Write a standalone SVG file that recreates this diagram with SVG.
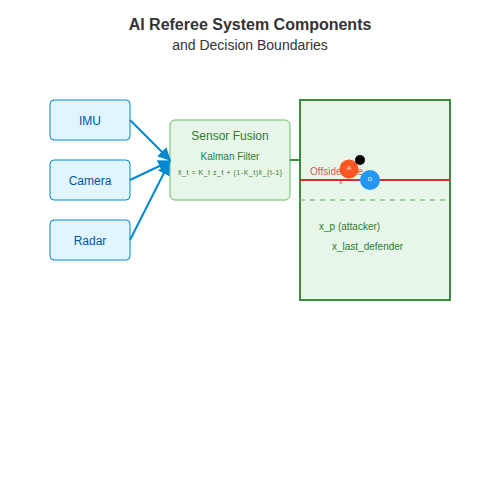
<svg xmlns="http://www.w3.org/2000/svg" width="500" height="500" viewBox="0 0 500 500">
<style>
text{font-family:"Liberation Sans",Arial,sans-serif}
.src rect{fill:#E1F5FE;stroke:#0288D1;stroke-width:1}
.src text{fill:#01579B;font-size:12px;text-anchor:middle}
.arr{stroke:#0288D1;stroke-width:2;fill:none;marker-end:url(#ah)}
</style>
<defs>
<marker id="ah" viewBox="0 0 10 10" refX="9" refY="5" markerUnits="userSpaceOnUse" markerWidth="13" markerHeight="13" orient="auto"><path d="M0,0L10,5L0,10z" fill="#0288D1"/></marker>
</defs>
<rect width="500" height="500" fill="#fff"/>
<text x="250" y="30" text-anchor="middle" font-size="16" font-weight="bold" fill="#333">AI Referee System Components</text>
<text x="250" y="50" text-anchor="middle" font-size="14" fill="#333">and Decision Boundaries</text>
<g id="imu" class="src"><rect x="50" y="100" width="80" height="40" rx="4"/><text x="90" y="125">IMU</text></g>
<g id="camera" class="src"><rect x="50" y="160" width="80" height="40" rx="4"/><text x="90" y="185">Camera</text></g>
<g id="radar" class="src"><rect x="50" y="220" width="80" height="40" rx="4"/><text x="90" y="245">Radar</text></g>
<g id="fusion"><rect x="170" y="120" width="120" height="80" rx="5" fill="#E8F5E9" stroke="#66BB6A" stroke-width="1"/>
<text x="230" y="140" text-anchor="middle" font-size="12" fill="#2E7D32">Sensor Fusion</text>
<text x="230" y="160" text-anchor="middle" font-size="10" fill="#2E7D32">Kalman Filter</text>
<text x="178" y="175" font-size="7" fill="#2E7D32" textLength="104" lengthAdjust="spacing">x̂_t = K_t z_t + (1-K_t)x̂_{t-1}</text></g>
<g id="connectors">
<line class="arr" x1="130" y1="120" x2="170" y2="160"/>
<line class="arr" x1="130" y1="180" x2="170" y2="161"/>
<line class="arr" x1="130" y1="240" x2="169" y2="163"/>
<line x1="290" y1="160" x2="300" y2="160" stroke="#388E3C" stroke-width="2"/>
</g>
<g id="field">
<rect x="300" y="100" width="150" height="200" fill="#E8F5E9" stroke="#388E3C" stroke-width="2"/>
<line x1="300" y1="180" x2="450" y2="180" stroke="#D32F2F" stroke-width="2"/>
<line x1="300" y1="200" x2="445" y2="200" stroke="#81C784" stroke-width="1.5" stroke-dasharray="5,5"/>
<text x="310" y="175" font-size="10" fill="#D32F2F" opacity="0.8">Offside Line</text>
<circle cx="349" cy="169" r="9.5" fill="#FF5722"/>
<text x="349" y="170" text-anchor="middle" font-size="6" fill="#fff">A</text>
<circle cx="360" cy="160" r="5" fill="#000"/>
<circle cx="370" cy="180" r="10" fill="#2196F3"/>
<text x="370" y="181" text-anchor="middle" font-size="6" fill="#fff">D</text>
<text x="341" y="184" text-anchor="middle" font-size="6" fill="#D32F2F">ε</text>
<text x="319" y="230" font-size="10" fill="#2E7D32">x_p (attacker)</text>
<text x="332" y="250" font-size="10" fill="#2E7D32">x_last_defender</text>
</g>
</svg>
